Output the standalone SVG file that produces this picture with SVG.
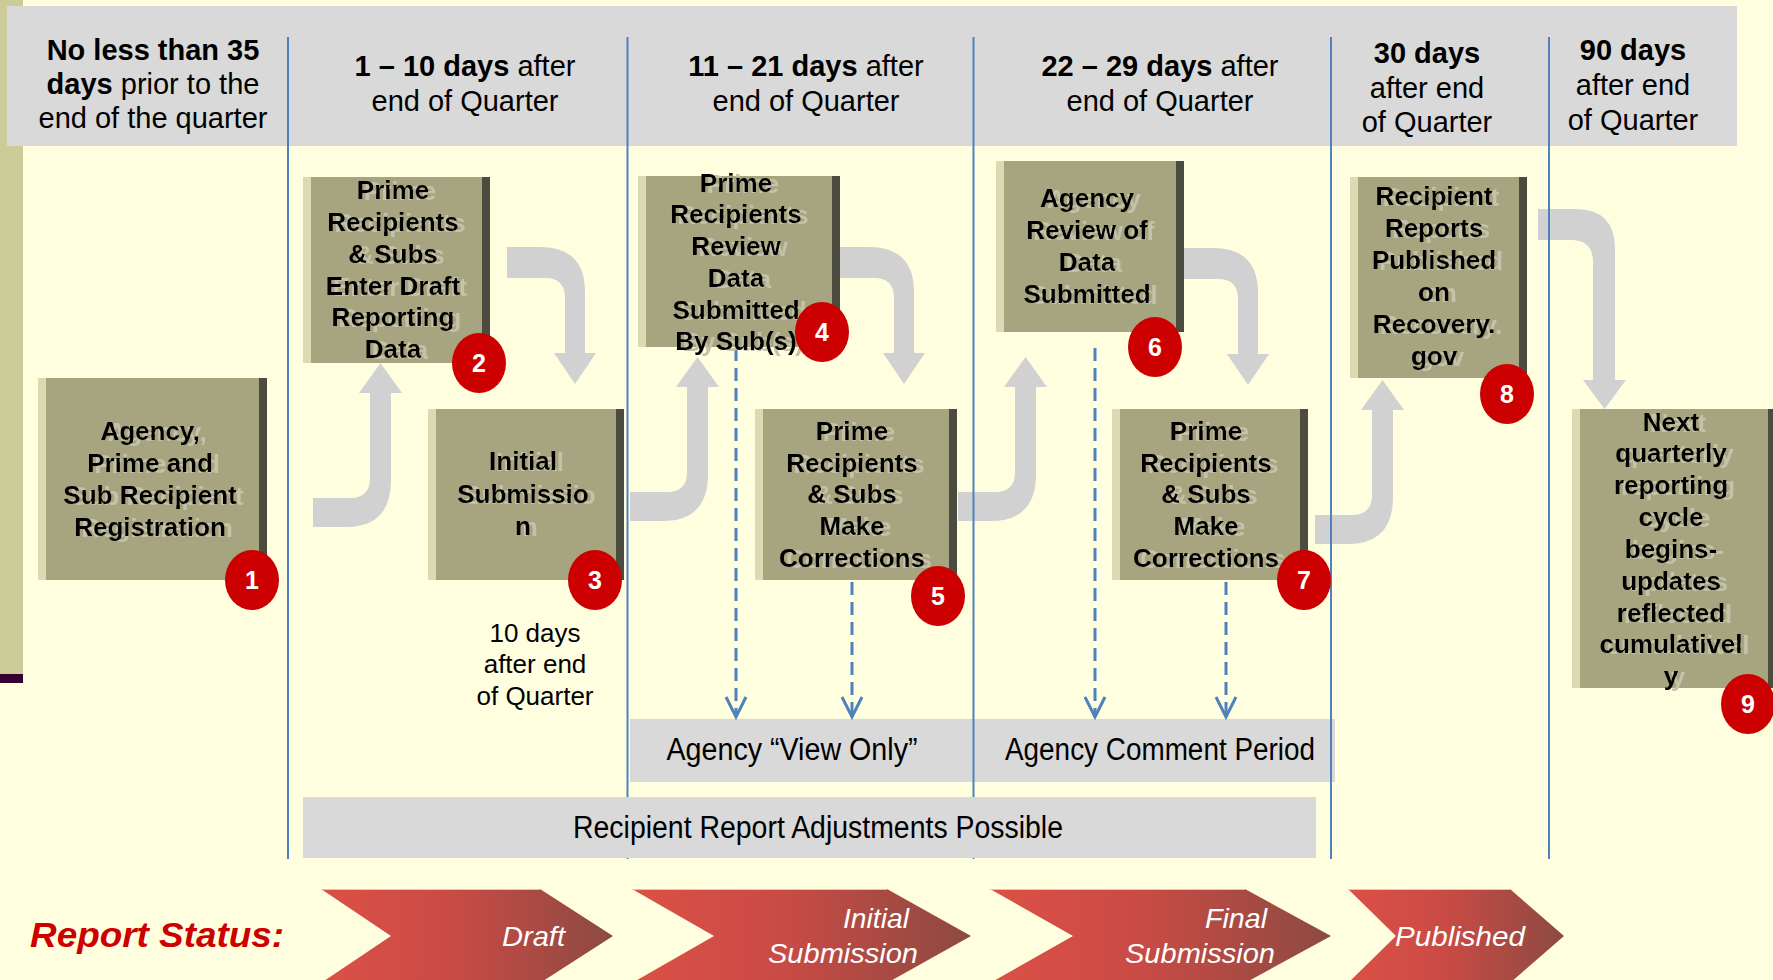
<svg xmlns="http://www.w3.org/2000/svg" width="1773" height="980" viewBox="0 0 1773 980">
<style>
.hd{font-family:"Liberation Sans",Arial,sans-serif;font-size:29px;fill:#000;text-anchor:middle}
.b{font-weight:bold}
.bt{font-family:"Liberation Sans",Arial,sans-serif;font-size:26px;font-weight:bold;fill:#000;text-anchor:middle;filter:url(#ghost)}
.lt{fill:#DBDAB2}.mn{fill:#A6A57F}.dk{fill:#4B4B40}
.bd{fill:#CC0000}
.bn{font-family:"Liberation Sans",Arial,sans-serif;font-size:25px;font-weight:bold;fill:#fff;text-anchor:middle}
.vl{stroke:#4F81BD;stroke-width:2;fill:none}
.ds{stroke:#4F81BD;stroke-width:3;stroke-dasharray:13 7;fill:none}
.ah{stroke:#4F81BD;stroke-width:3;fill:none}
.bar{fill:#D9D9D9}
.nr{font-family:"Liberation Sans Narrow","Liberation Sans",Arial,sans-serif;font-size:31px;fill:#000}
.ct{font-family:"Liberation Sans Narrow","Liberation Sans",Arial,sans-serif;font-size:28px;font-style:italic;fill:#fff}
.rg{font-family:"Liberation Sans",Arial,sans-serif;font-size:26px;fill:#000;text-anchor:middle}
#gray-arrows path,#gray-arrows use{fill:#D1D1D1}
</style>
<defs>
<filter id="ghost" x="-10%" y="-10%" width="130%" height="130%">
<feOffset in="SourceAlpha" dx="7" dy="1" result="off"/>
<feFlood flood-color="#C4C3A9"/>
<feComposite in2="off" operator="in" result="sh"/>
<feMerge><feMergeNode in="sh"/><feMergeNode in="SourceGraphic"/></feMerge>
</filter>
<linearGradient id="cg" x1="0" y1="0" x2="1" y2="0">
<stop offset="0" stop-color="#DC5046"/>
<stop offset="0.45" stop-color="#C94B45"/>
<stop offset="1" stop-color="#8C4A41"/>
</linearGradient>
<path id="arrA" d="M313,498 L350,498 Q370,498 370,478 L370,393 L359,393 L380.5,363 L402,393 L391,393 L391,480 Q391,527 346,527 L313,527 Z"/>
<path id="arrB" d="M507,247 L540,247 Q585,247 585,292 L585,353 L596,353 L575,384 L554,353 L565,353 L565,298 Q565,278 545,278 L507,278 Z"/>
</defs>

<rect x="0" y="0" width="1773" height="980" fill="#FFFFE0"/>
<rect x="0" y="0" width="23" height="674" fill="#CCCC99"/>
<rect x="0" y="674" width="23" height="9" fill="#33002F"/>
<rect x="7" y="6" width="1730" height="140" fill="#D9D9D9"/>

<g id="header-text">
<text class="hd" x="153" y="60"><tspan class="b">No less than 35</tspan></text>
<text class="hd" x="153" y="94"><tspan class="b">days</tspan> prior to the</text>
<text class="hd" x="153" y="128">end of the quarter</text>
<text class="hd" x="465" y="76"><tspan class="b">1 – 10 days</tspan> after</text>
<text class="hd" x="465" y="111">end of Quarter</text>
<text class="hd" x="806" y="76"><tspan class="b">11 – 21 days</tspan> after</text>
<text class="hd" x="806" y="111">end of Quarter</text>
<text class="hd" x="1160" y="76"><tspan class="b">22 – 29 days</tspan> after</text>
<text class="hd" x="1160" y="111">end of Quarter</text>
<text class="hd b" x="1427" y="63">30 days</text>
<text class="hd" x="1427" y="98">after end</text>
<text class="hd" x="1427" y="132">of Quarter</text>
<text class="hd b" x="1633" y="60">90 days</text>
<text class="hd" x="1633" y="95">after end</text>
<text class="hd" x="1633" y="130">of Quarter</text>
</g>

<g id="agency-bars">
<rect class="bar" x="630" y="719" width="343" height="63"/>
<rect class="bar" x="973" y="719" width="362" height="63"/>
<text class="nr" x="792" y="760" text-anchor="middle" textLength="251" lengthAdjust="spacingAndGlyphs">Agency “View Only”</text>
<text class="nr" x="1160" y="760" text-anchor="middle" textLength="310" lengthAdjust="spacingAndGlyphs">Agency Comment Period</text>
</g>

<g id="connectors">
<g id="gray-arrows">
<use href="#arrA"/>
<use href="#arrA" transform="translate(317,-6)"/>
<use href="#arrA" transform="translate(645,-6)"/>
<use href="#arrA" transform="translate(1002,17)"/>
<use href="#arrB"/>
<use href="#arrB" transform="translate(329,0)"/>
<use href="#arrB" transform="translate(673,1)"/>
<path d="M1538,209 L1575,209 Q1615,209 1615,249 L1615,380 L1626,380 L1604.5,409 L1583,380 L1593,380 L1593,262 Q1593,240 1571,240 L1538,240 Z"/>
</g>
<g id="dashed-arrows">
<line class="ds" x1="736" y1="348" x2="736" y2="715"/>
<polyline class="ah" points="726,697 736,717 746,697"/>
<line class="ds" x1="852" y1="582" x2="852" y2="715"/>
<polyline class="ah" points="842,697 852,717 862,697"/>
<line class="ds" x1="1095" y1="348" x2="1095" y2="715"/>
<polyline class="ah" points="1085,697 1095,717 1105,697"/>
<line class="ds" x1="1226" y1="582" x2="1226" y2="715"/>
<polyline class="ah" points="1216,697 1226,717 1236,697"/>
</g>
</g>

<g id="dividers">
<line class="vl" x1="288" y1="37" x2="288" y2="859"/>
<line class="vl" x1="627.5" y1="37" x2="627.5" y2="859"/>
<line class="vl" x1="973.5" y1="37" x2="973.5" y2="859"/>
<line class="vl" x1="1331" y1="37" x2="1331" y2="859"/>
<line class="vl" x1="1549" y1="37" x2="1549" y2="859"/>
</g>

<g id="adjust-bar">
<rect class="bar" x="303" y="797" width="1013" height="61"/>
<text class="nr" x="818" y="838" text-anchor="middle" textLength="490" lengthAdjust="spacingAndGlyphs">Recipient Report Adjustments Possible</text>
</g>

<g id="node1">
<rect class="lt" x="38" y="378" width="229" height="202"/>
<rect class="mn" x="46" y="378" width="213" height="202"/>
<rect class="dk" x="259" y="378" width="8" height="202"/>
<text class="bt"><tspan x="150" y="440">Agency,</tspan><tspan x="150" y="472">Prime and</tspan><tspan x="150" y="504">Sub Recipient</tspan><tspan x="150" y="536">Registration</tspan></text>
</g>

<g id="node2">
<rect class="lt" x="303" y="177" width="187" height="186"/>
<rect class="mn" x="311" y="177" width="171" height="186"/>
<rect class="dk" x="482" y="177" width="8" height="186"/>
<text class="bt"><tspan x="393" y="199">Prime</tspan><tspan x="393" y="231">Recipients</tspan><tspan x="393" y="263">&amp; Subs</tspan><tspan x="393" y="295">Enter Draft</tspan><tspan x="393" y="326">Reporting</tspan><tspan x="393" y="358">Data</tspan></text>
</g>

<g id="node3">
<rect class="lt" x="428" y="409" width="196" height="171"/>
<rect class="mn" x="436" y="409" width="180" height="171"/>
<rect class="dk" x="616" y="409" width="8" height="171"/>
<text class="bt"><tspan x="523" y="470">Initial</tspan><tspan x="523" y="503">Submissio</tspan><tspan x="523" y="535">n</tspan></text>
<text class="rg"><tspan x="535" y="642">10 days</tspan><tspan x="535" y="673">after end</tspan><tspan x="535" y="705">of Quarter</tspan></text>
</g>

<g id="node4">
<rect class="lt" x="638" y="176" width="202" height="171"/>
<rect class="mn" x="646" y="176" width="186" height="171"/>
<rect class="dk" x="832" y="176" width="8" height="171"/>
<text class="bt"><tspan x="736" y="192">Prime</tspan><tspan x="736" y="223">Recipients</tspan><tspan x="736" y="255">Review</tspan><tspan x="736" y="287">Data</tspan><tspan x="736" y="319">Submitted</tspan><tspan x="736" y="350">By Sub(s)</tspan></text>
</g>

<g id="node5">
<rect class="lt" x="755" y="409" width="202" height="171"/>
<rect class="mn" x="763" y="409" width="186" height="171"/>
<rect class="dk" x="949" y="409" width="8" height="171"/>
<text class="bt"><tspan x="852" y="440">Prime</tspan><tspan x="852" y="472">Recipients</tspan><tspan x="852" y="503">&amp; Subs</tspan><tspan x="852" y="535">Make</tspan><tspan x="852" y="567">Corrections</tspan></text>
</g>

<g id="node6">
<rect class="lt" x="996" y="161" width="188" height="171"/>
<rect class="mn" x="1004" y="161" width="172" height="171"/>
<rect class="dk" x="1176" y="161" width="8" height="171"/>
<text class="bt"><tspan x="1087" y="207">Agency</tspan><tspan x="1087" y="239">Review of</tspan><tspan x="1087" y="271">Data</tspan><tspan x="1087" y="303">Submitted</tspan></text>
</g>

<g id="node7">
<rect class="lt" x="1112" y="409" width="196" height="171"/>
<rect class="mn" x="1120" y="409" width="180" height="171"/>
<rect class="dk" x="1300" y="409" width="8" height="171"/>
<text class="bt"><tspan x="1206" y="440">Prime</tspan><tspan x="1206" y="472">Recipients</tspan><tspan x="1206" y="503">&amp; Subs</tspan><tspan x="1206" y="535">Make</tspan><tspan x="1206" y="567">Corrections</tspan></text>
</g>

<g id="node8">
<rect class="lt" x="1350" y="177" width="177" height="201"/>
<rect class="mn" x="1358" y="177" width="161" height="201"/>
<rect class="dk" x="1519" y="177" width="8" height="201"/>
<text class="bt"><tspan x="1434" y="205">Recipient</tspan><tspan x="1434" y="237">Reports</tspan><tspan x="1434" y="269">Published</tspan><tspan x="1434" y="301">on</tspan><tspan x="1434" y="333">Recovery.</tspan><tspan x="1434" y="365">gov</tspan></text>
</g>

<g id="node9">
<rect class="lt" x="1572" y="409" width="204" height="279"/>
<rect class="mn" x="1580" y="409" width="188" height="279"/>
<rect class="dk" x="1768" y="409" width="8" height="279"/>
<text class="bt"><tspan x="1671" y="431">Next</tspan><tspan x="1671" y="462">quarterly</tspan><tspan x="1671" y="494">reporting</tspan><tspan x="1671" y="526">cycle</tspan><tspan x="1671" y="558">begins-</tspan><tspan x="1671" y="590">updates</tspan><tspan x="1671" y="622">reflected</tspan><tspan x="1671" y="653">cumulativel</tspan><tspan x="1671" y="685">y</tspan></text>
</g>

<g id="badges">
<ellipse class="bd" cx="252" cy="580" rx="27" ry="30"/><text class="bn" x="252" y="589">1</text>
<ellipse class="bd" cx="479" cy="363" rx="27" ry="30"/><text class="bn" x="479" y="372">2</text>
<ellipse class="bd" cx="595" cy="580" rx="27" ry="30"/><text class="bn" x="595" y="589">3</text>
<ellipse class="bd" cx="822" cy="332" rx="27" ry="30"/><text class="bn" x="822" y="341">4</text>
<ellipse class="bd" cx="938" cy="596" rx="27" ry="30"/><text class="bn" x="938" y="605">5</text>
<ellipse class="bd" cx="1155" cy="347" rx="27" ry="30"/><text class="bn" x="1155" y="356">6</text>
<ellipse class="bd" cx="1304" cy="580" rx="27" ry="30"/><text class="bn" x="1304" y="589">7</text>
<ellipse class="bd" cx="1507" cy="394" rx="27" ry="30"/><text class="bn" x="1507" y="403">8</text>
<ellipse class="bd" cx="1748" cy="704" rx="27" ry="30"/><text class="bn" x="1748" y="713">9</text>
</g>

<g id="status">
<text x="30" y="947" font-family="Liberation Sans,Arial,sans-serif" font-size="35" font-weight="bold" font-style="italic" fill="#CC0000" textLength="254" lengthAdjust="spacingAndGlyphs">Report Status:</text>
<g id="chev-draft">
<polygon points="321,889 540,889 613,936 540,983 321,983 391,936" fill="url(#cg)"/>
<line x1="321" y1="889.5" x2="540" y2="889.5" stroke="#EAC3A4" stroke-width="1"/>
<text class="ct" x="502" y="946" textLength="63" lengthAdjust="spacingAndGlyphs">Draft</text>
</g>
<g id="chev-initial">
<polygon points="632,889 887,889 971,936 887,983 632,983 714,936" fill="url(#cg)"/>
<line x1="632" y1="889.5" x2="887" y2="889.5" stroke="#EAC3A4" stroke-width="1"/>
<text class="ct" x="843" y="928" textLength="66" lengthAdjust="spacingAndGlyphs">Initial</text>
<text class="ct" x="768" y="963" textLength="150" lengthAdjust="spacingAndGlyphs">Submission</text>
</g>
<g id="chev-final">
<polygon points="990,889 1245,889 1331,936 1245,983 990,983 1073,936" fill="url(#cg)"/>
<line x1="990" y1="889.5" x2="1245" y2="889.5" stroke="#EAC3A4" stroke-width="1"/>
<text class="ct" x="1205" y="928" textLength="62" lengthAdjust="spacingAndGlyphs">Final</text>
<text class="ct" x="1125" y="963" textLength="150" lengthAdjust="spacingAndGlyphs">Submission</text>
</g>
<g id="chev-published">
<polygon points="1348,889 1510,889 1564,936 1510,983 1348,983 1396,936" fill="url(#cg)"/>
<line x1="1348" y1="889.5" x2="1510" y2="889.5" stroke="#EAC3A4" stroke-width="1"/>
<text class="ct" x="1395" y="946" textLength="130" lengthAdjust="spacingAndGlyphs">Published</text>
</g>
</g>
</svg>
